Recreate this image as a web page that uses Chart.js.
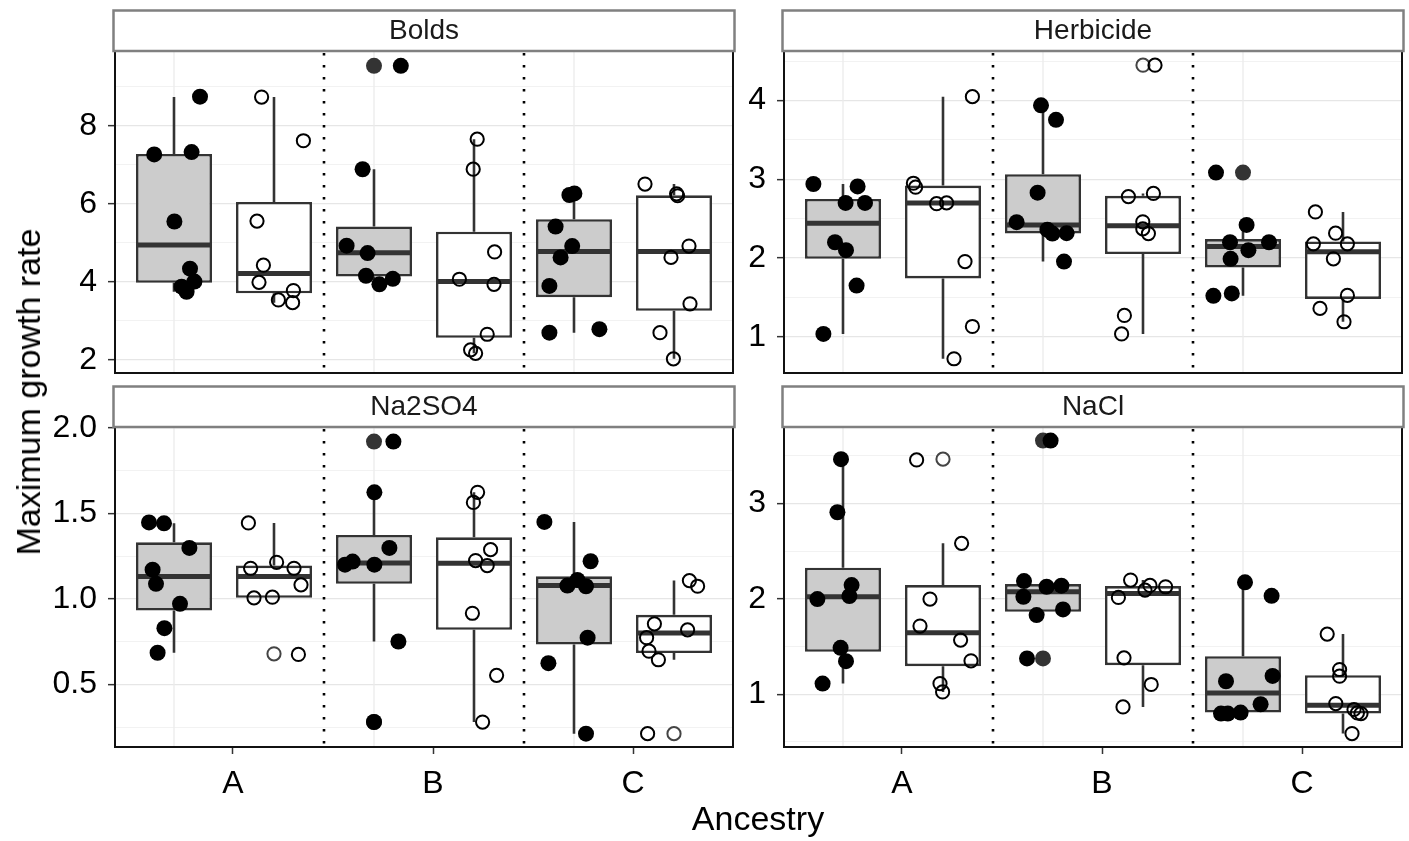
<!DOCTYPE html>
<html>
<head>
<meta charset="utf-8">
<title>Maximum growth rate by ancestry</title>
<script src="https://cdn.jsdelivr.net/npm/chart.js@4"></script>
<style>
  html, body { margin: 0; padding: 0; background: #ffffff; }
  #fig { position: relative; width: 1409px; height: 841px; overflow: hidden; background: #ffffff;
         font-family: "Liberation Sans", Arial, Helvetica, sans-serif; }
  #fig canvas { position: absolute; }
  .axis-title { position: absolute; font-size: 34px; color: #000; white-space: nowrap; line-height: 1; }
  #xTitle { left: 758px; top: 818px; transform: translate(-50%, -50%); }
  #yTitle { left: 28px; top: 392px; transform: translate(-50%, -50%) rotate(-90deg); }
</style>
</head>
<body>
<div id="fig">
  <canvas id="pBolds" width="793" height="380" style="left:0px;top:0px"></canvas>
  <canvas id="pHerb" width="762" height="380" style="left:700px;top:0px"></canvas>
  <canvas id="pSO4" width="793" height="465" style="left:0px;top:376px"></canvas>
  <canvas id="pNaCl" width="762" height="465" style="left:700px;top:376px"></canvas>
  <div class="axis-title" id="xTitle">Ancestry</div>
  <div class="axis-title" id="yTitle">Maximum growth rate</div>
</div>
<script>
// ---- data -------------------------------------------------------------
const ancestry = ["A", "B", "C"];
const media = ["Bolds", "Herbicide", "Na2SO4", "NaCl"];

// box statistics per ancestry: [lower whisker, Q1, median, Q3, upper whisker]
const boldsSolidBox = [[3.75, 3.98, 4.95, 7.28, 8.74], [3.94, 4.14, 4.75, 5.42, 6.89], [2.70, 3.61, 4.78, 5.61, 6.27]];
const boldsOpenBox  = [[3.47, 3.71, 4.22, 6.05, 8.74], [2.17, 2.57, 4.01, 5.29, 7.66], [2.03, 3.26, 4.78, 6.22, 6.51]];
const herbSolidBox  = [[1.035, 1.99, 2.44, 2.75, 2.94], [1.955, 2.31, 2.42, 3.065, 3.94], [1.52, 1.88, 2.145, 2.24, 2.42]];
const herbOpenBox   = [[0.72, 1.74, 2.70, 2.92, 4.05], [1.035, 2.05, 2.41, 2.79, 2.82], [1.19, 1.48, 2.08, 2.21, 2.585]];
const so4SolidBox   = [[0.685, 0.932, 1.131, 1.331, 1.442], [0.751, 1.088, 1.21, 1.374, 1.623], [0.212, 0.733, 1.078, 1.132, 1.45]];
const so4OpenBox    = [[1.006, 1.006, 1.131, 1.195, 1.444], [0.28, 0.819, 1.208, 1.36, 1.623], [0.644, 0.683, 0.80, 0.907, 1.107]];
const naclSolidBox  = [[1.112, 1.444, 2.021, 2.325, 3.463], [1.829, 1.864, 2.074, 2.154, 2.186], [0.797, 0.808, 1.014, 1.399, 2.172]];
const naclOpenBox   = [[1.024, 1.294, 1.643, 2.144, 2.581], [0.867, 1.304, 2.056, 2.133, 2.196], [0.588, 0.797, 0.885, 1.199, 1.63]];

// boxplot outliers per ancestry
const boldsSolidOut = [[], [9.54], []];
const boldsOpenOut  = [[], [], []];
const herbSolidOut  = [[], [], [3.085]];
const herbOpenOut   = [[], [4.45], []];
const so4SolidOut   = [[], [1.92, 0.28], []];
const so4OpenOut    = [[0.679], [], [0.212]];
const naclSolidOut  = [[], [3.658, 1.375], []];
const naclOpenOut   = [[3.463], [], []];

// individual replicates: [jittered ancestry position, growth rate]
const boldsSolidPts = [
  [0.88, 8.75], [0.651, 7.27], [0.838, 7.33], [0.752, 5.55], [0.83, 4.34], [0.852, 4.01], [0.788, 3.88], [0.813, 3.75],
  [1.884, 9.54], [1.693, 6.89], [1.613, 4.93], [1.718, 4.74], [1.71, 4.16], [1.777, 3.94], [1.844, 4.08],
  [2.727, 6.23], [2.752, 6.27], [2.658, 5.42], [2.741, 4.92], [2.683, 4.63], [2.627, 3.90], [2.627, 2.70], [2.877, 2.79]];
const boldsOpenPts = [
  [1.188, 8.74], [1.397, 7.62], [1.165, 5.56], [1.197, 4.43], [1.175, 3.99], [1.347, 3.78], [1.272, 3.54], [1.343, 3.47],
  [2.266, 7.66], [2.246, 6.89], [2.353, 4.77], [2.177, 4.07], [2.35, 3.94], [2.316, 2.66], [2.233, 2.26], [2.258, 2.17],
  [3.105, 6.51], [3.263, 6.26], [3.268, 6.21], [3.325, 4.92], [3.235, 4.63], [3.33, 3.44], [3.18, 2.70], [3.247, 2.03]];
const herbSolidPts = [
  [0.602, 2.94], [0.823, 2.91], [0.763, 2.70], [0.86, 2.70], [0.71, 2.20], [0.765, 2.10], [0.818, 1.65], [0.652, 1.035],
  [1.74, 3.94], [1.815, 3.755], [1.723, 2.83], [1.618, 2.455], [1.772, 2.36], [1.797, 2.31], [1.868, 2.315], [1.855, 1.955],
  [2.615, 3.085], [2.768, 2.42], [2.685, 2.20], [2.88, 2.20], [2.777, 2.10], [2.688, 1.99], [2.602, 1.52], [2.694, 1.55]];
const herbOpenPts = [
  [1.397, 4.05], [1.102, 2.95], [1.113, 2.90], [1.218, 2.69], [1.268, 2.70], [1.36, 1.955], [1.397, 1.13], [1.305, 0.72],
  [2.31, 4.45], [2.177, 2.78], [2.302, 2.82], [2.249, 2.46], [2.249, 2.37], [2.277, 2.31], [2.157, 1.27], [2.143, 1.035],
  [3.112, 2.585], [3.213, 2.315], [3.102, 2.18], [3.272, 2.18], [3.202, 1.99], [3.272, 1.525], [3.135, 1.36], [3.255, 1.19]];
const so4SolidPts = [
  [0.625, 1.447], [0.70, 1.442], [0.827, 1.298], [0.643, 1.171], [0.66, 1.088], [0.78, 0.971], [0.702, 0.829], [0.668, 0.685],
  [1.847, 1.92], [1.752, 1.623], [1.827, 1.298], [1.605, 1.20], [1.643, 1.218], [1.752, 1.20], [1.872, 0.751], [1.75, 0.28],
  [2.602, 1.45], [2.833, 1.22], [2.717, 1.078], [2.767, 1.111], [2.81, 1.074], [2.818, 0.773], [2.622, 0.624], [2.81, 0.212]];
const so4OpenPts = [
  [1.122, 1.444], [1.133, 1.179], [1.263, 1.214], [1.35, 1.179], [1.385, 1.082], [1.15, 1.006], [1.242, 1.01], [1.372, 0.675],
  [2.268, 1.623], [2.247, 1.564], [2.333, 1.288], [2.258, 1.224], [2.316, 1.195], [2.242, 0.916], [2.363, 0.553], [2.293, 0.28],
  [3.118, 0.212], [3.327, 1.107], [3.368, 1.074], [3.152, 0.854], [3.318, 0.819], [3.113, 0.773], [3.125, 0.694], [3.172, 0.644]];
const naclSolidPts = [
  [0.74, 3.463], [0.722, 2.907], [0.793, 2.144], [0.782, 2.028], [0.622, 1.997], [0.738, 1.486], [0.765, 1.346], [0.648, 1.112],
  [1.788, 3.658], [1.655, 2.186], [1.768, 2.126], [1.842, 2.137], [1.652, 2.021], [1.85, 1.889], [1.718, 1.829], [1.67, 1.375],
  [2.76, 2.172], [2.893, 2.031], [2.665, 1.136], [2.898, 1.192], [2.838, 0.895], [2.64, 0.797], [2.674, 0.797], [2.738, 0.808]];
const naclOpenPts = [
  [1.118, 3.455], [1.343, 2.581], [1.185, 1.997], [1.135, 1.714], [1.338, 1.567], [1.39, 1.35], [1.235, 1.112], [1.248, 1.024],
  [2.188, 2.196], [2.285, 2.14], [2.26, 2.091], [2.363, 2.126], [2.127, 2.014], [2.155, 1.381], [2.291, 1.102], [2.15, 0.867],
  [3.171, 1.63], [3.233, 1.259], [3.233, 1.189], [3.214, 0.902], [3.305, 0.84], [3.322, 0.804], [3.34, 0.797], [3.295, 0.588]];

// ---- drawing ----------------------------------------------------------
const FONT = '"Liberation Sans", Arial, Helvetica, sans-serif';
const TICK_SIZE = 32;
const DODGE = 0.25;          // solid boxes left of each ancestry, open boxes right
const LABEL_SHIFT = 0.045;   // ancestry labels sit slightly right of the group centre
const X_MIN = 0.455, X_MAX = 3.545;

// facet decorations: light vertical guides, dotted group dividers, panel frame, strip header
const facetPlugin = {
  id: 'facet',
  beforeDatasetsDraw(chart) {
    const { ctx, chartArea: a, scales: { x } } = chart;
    ctx.save();
    ctx.strokeStyle = '#ebebeb';
    ctx.lineWidth = 1.3;
    ancestry.forEach((_, i) => {
      const px = x.getPixelForValue(i + 1 - DODGE);
      ctx.beginPath(); ctx.moveTo(px, a.top); ctx.lineTo(px, a.bottom); ctx.stroke();
    });
    ctx.strokeStyle = '#000';
    ctx.lineWidth = 2.6;
    ctx.setLineDash([2.6, 9.4]);
    for (let i = 1; i < ancestry.length; i++) {
      const px = x.getPixelForValue(i + 0.5);
      ctx.beginPath(); ctx.moveTo(px, a.top + 2); ctx.lineTo(px, a.bottom); ctx.stroke();
    }
    ctx.restore();
  },
  afterDraw(chart, args, opts) {
    const { ctx, chartArea: a } = chart;
    ctx.save();
    ctx.strokeStyle = '#111';
    ctx.lineWidth = 2;
    ctx.strokeRect(a.left, a.top, a.right - a.left, a.bottom - a.top);
    const sx = a.left - 1.5, sw = a.right - a.left + 3, sy = 10.5, sh = a.top - sy;
    ctx.fillStyle = '#ffffff';
    ctx.fillRect(sx, sy, sw, sh);
    ctx.strokeStyle = '#808080';
    ctx.lineWidth = 2.5;
    ctx.strokeRect(sx, sy, sw, sh);
    ctx.fillStyle = '#1a1a1a';
    ctx.font = '28px ' + FONT;
    ctx.textAlign = 'center';
    ctx.textBaseline = 'middle';
    ctx.fillText(opts.title, (a.left + a.right) / 2, sy + sh / 2 + 1);
    ctx.restore();
  }
};

function facetChart(id, spec) {
  const isMajor = v => Math.abs(v / spec.major - Math.round(v / spec.major)) < 1e-6;
  const boxData = [], boxFill = [], whiskers = [], medians = [], outSolid = [], outOpen = [];
  ancestry.forEach((_, i) => {
    [[spec.solidBox[i], i + 1 - DODGE, '#cccccc'], [spec.openBox[i], i + 1 + DODGE, '#ffffff']].forEach(([s, x, fill]) => {
      boxData.push({ x, y: [s[1], s[3]] });
      boxFill.push(fill);
      whiskers.push({ x, y: s[3] }, { x, y: s[4] }, { x, y: null }, { x, y: s[0] }, { x, y: s[1] }, { x, y: null });
      medians.push({ x, y: s[2] });
    });
    spec.solidOut[i].forEach(v => outSolid.push({ x: i + 1 - DODGE, y: v }));
    spec.openOut[i].forEach(v => outOpen.push({ x: i + 1 + DODGE, y: v }));
  });
  const toXY = pts => pts.map(([x, y]) => ({ x, y }));

  return new Chart(document.getElementById(id), {
    type: 'bar',
    data: {
      datasets: [
        { type: 'scatter', data: toXY(spec.solidPts), pointRadius: 8, pointBackgroundColor: '#000',
          pointBorderWidth: 0, order: 0 },
        { type: 'scatter', data: toXY(spec.openPts), pointRadius: 6.6, pointBackgroundColor: 'rgba(0,0,0,0)',
          pointBorderColor: '#000', pointBorderWidth: 2, order: 0 },
        { type: 'scatter', data: outSolid, pointRadius: 8, pointBackgroundColor: '#333333',
          pointBorderWidth: 0, order: 1 },
        { type: 'scatter', data: outOpen, pointRadius: 6.6, pointBackgroundColor: 'rgba(0,0,0,0)',
          pointBorderColor: '#444444', pointBorderWidth: 2, order: 1 },
        { type: 'scatter', data: medians, pointStyle: 'line', pointRadius: 38, pointBorderColor: '#333333',
          pointBorderWidth: 5, order: 2 },
        { type: 'bar', data: boxData, backgroundColor: boxFill, borderColor: '#333333', borderWidth: 2.6,
          borderSkipped: false, categoryPercentage: 1, barPercentage: 0.76, order: 3 },
        { type: 'line', data: whiskers, borderColor: '#333333', borderWidth: 2.6, pointRadius: 0,
          fill: false, spanGaps: false, order: 4 }
      ]
    },
    options: {
      responsive: false,
      maintainAspectRatio: false,
      devicePixelRatio: 1,
      animation: false,
      events: [],
      layout: { autoPadding: false, padding: { left: 0, top: 51, right: 60, bottom: spec.showX ? 0 : 7 } },
      plugins: { legend: { display: false }, tooltip: { enabled: false }, facet: { title: spec.title } },
      scales: {
        x: {
          type: 'linear', display: spec.showX, min: X_MIN, max: X_MAX, offset: false,
          afterBuildTicks: s => { s.ticks = ancestry.map((_, i) => ({ value: i + 1 + LABEL_SHIFT })); },
          afterFit: s => {
            if (spec.showX) s.height = 94;
            s.paddingLeft = 0; s.paddingRight = 0;
          },
          ticks: { autoSkip: false, maxRotation: 0, padding: 11, color: '#000',
                   font: { family: FONT, size: TICK_SIZE }, callback: (v, i) => ancestry[i] },
          grid: { display: true, drawOnChartArea: false, drawTicks: true, tickLength: 7,
                  tickColor: '#333', tickWidth: 1.5, offset: false },
          border: { display: false }
        },
        y: {
          type: 'linear', min: spec.yMin, max: spec.yMax,
          afterBuildTicks: s => {
            const t = [];
            for (let k = Math.ceil(spec.yMin / spec.minor - 1e-9); k * spec.minor <= spec.yMax + 1e-9; k++) {
              t.push({ value: +(k * spec.minor).toFixed(6) });
            }
            s.ticks = t;
          },
          afterFit: s => { s.width = spec.axisWidth; s.paddingTop = 0; s.paddingBottom = 0; },
          ticks: { autoSkip: false, padding: 11, color: '#000', font: { family: FONT, size: TICK_SIZE },
                   callback: v => isMajor(v) ? v.toFixed(spec.digits) : '' },
          grid: {
            color: c => (c.tick && isMajor(c.tick.value)) ? '#e6e6e6' : '#f2f2f2',
            lineWidth: c => (c.tick && isMajor(c.tick.value)) ? 1.3 : 1,
            tickColor: c => (c.tick && isMajor(c.tick.value)) ? '#333' : 'rgba(0,0,0,0)',
            tickLength: 7, tickWidth: 1.5
          },
          border: { display: false }
        }
      }
    },
    plugins: [facetPlugin]
  });
}

facetChart('pBolds', { title: media[0], yMin: 1.667, yMax: 9.92, major: 2, minor: 1, digits: 0,
  solidBox: boldsSolidBox, openBox: boldsOpenBox, solidOut: boldsSolidOut, openOut: boldsOpenOut,
  solidPts: boldsSolidPts, openPts: boldsOpenPts, showX: false, axisWidth: 115 });
facetChart('pHerb', { title: media[1], yMin: 0.539, yMax: 4.63, major: 1, minor: 0.5, digits: 0,
  solidBox: herbSolidBox, openBox: herbOpenBox, solidOut: herbSolidOut, openOut: herbOpenOut,
  solidPts: herbSolidPts, openPts: herbOpenPts, showX: false, axisWidth: 84 });
facetChart('pSO4', { title: media[2], yMin: 0.134, yMax: 2.005, major: 0.5, minor: 0.25, digits: 1,
  solidBox: so4SolidBox, openBox: so4OpenBox, solidOut: so4SolidOut, openOut: so4OpenOut,
  solidPts: so4SolidPts, openPts: so4OpenPts, showX: true, axisWidth: 115 });
facetChart('pNaCl', { title: media[3], yMin: 0.447, yMax: 3.80, major: 1, minor: 0.5, digits: 0,
  solidBox: naclSolidBox, openBox: naclOpenBox, solidOut: naclSolidOut, openOut: naclOpenOut,
  solidPts: naclSolidPts, openPts: naclOpenPts, showX: true, axisWidth: 84 });
</script>
</body>
</html>
